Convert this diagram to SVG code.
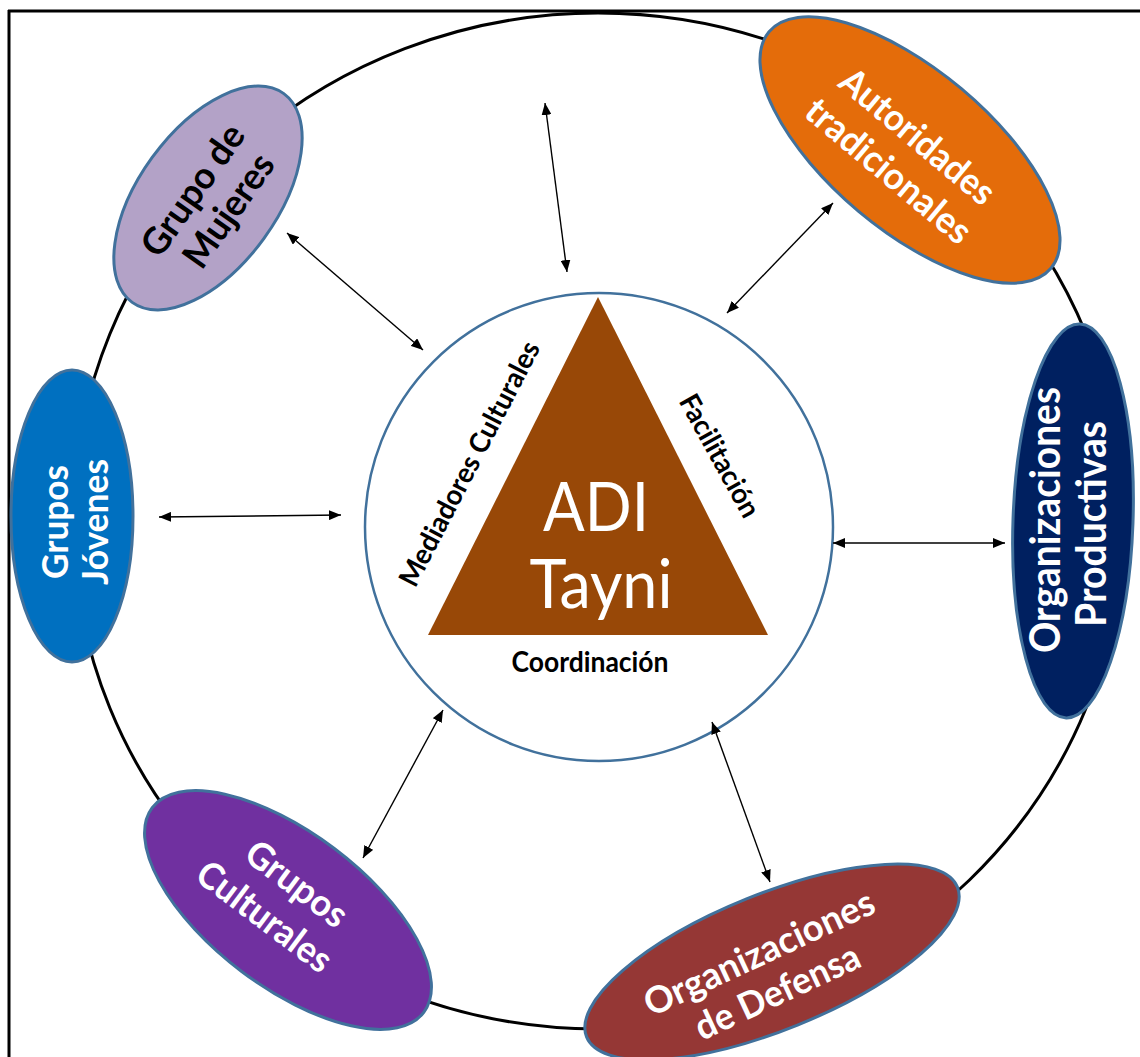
<svg xmlns="http://www.w3.org/2000/svg" width="1140" height="1057" viewBox="0 0 1140 1057">
<style>
.lbl{font-family:Lato,"Liberation Sans",sans-serif;font-weight:bold;font-size:37px;text-anchor:middle}
.w{fill:#ffffff}
.k{fill:#000000}
.node{stroke:#41719C;stroke-width:3}
.inner{font-family:Lato,"Liberation Sans",sans-serif;font-weight:bold;font-size:28px;text-anchor:middle;fill:#000}
.big{font-family:Lato,"Liberation Sans",sans-serif;font-size:68px;text-anchor:middle;fill:#fff}
.conn line{stroke:#000;stroke-width:1.4;marker-start:url(#ah);marker-end:url(#ah)}
</style>
<defs>
<marker id="ah" viewBox="0 0 12 10" refX="12" refY="5" markerWidth="12" markerHeight="10" markerUnits="userSpaceOnUse" orient="auto-start-reverse">
<path d="M0,0 L12,5 L0,10 z" fill="#000"/>
</marker>
</defs>
<rect width="1140" height="1057" fill="#fff"/>
<g id="frame" stroke="#000" stroke-width="3" fill="none">
<line x1="8" y1="11" x2="1140" y2="11"/>
<line x1="9" y1="10" x2="9" y2="1057"/>
</g>
<ellipse id="outer-ring" cx="598" cy="521" rx="525" ry="508" fill="none" stroke="#000" stroke-width="3"/>
<g id="center">
<circle cx="599" cy="527" r="234" fill="#fff" stroke="#41719C" stroke-width="2.5"/>
<polygon points="598,297 428,635 768,635" fill="#984807"/>
<text class="big" x="596" y="531" textLength="106" lengthAdjust="spacingAndGlyphs">ADI</text>
<text class="big" x="601" y="608" textLength="143" lengthAdjust="spacingAndGlyphs">Tayni</text>
<text class="inner" transform="translate(470,464) rotate(-62.5)" y="9" textLength="272" lengthAdjust="spacingAndGlyphs">Mediadores Culturales</text>
<text class="inner" transform="translate(719,456) rotate(61)" y="9" textLength="136" lengthAdjust="spacingAndGlyphs">Facilitación</text>
<text class="inner" x="590" y="672" textLength="157" lengthAdjust="spacingAndGlyphs">Coordinación</text>
</g>
<g id="connectors" class="conn">
<line x1="287" y1="233" x2="423" y2="350"/>
<line x1="545" y1="103" x2="567" y2="272"/>
<line x1="833" y1="203" x2="727" y2="313"/>
<line x1="159" y1="517" x2="341" y2="515"/>
<line x1="833" y1="543" x2="1005" y2="543"/>
<line x1="363" y1="858" x2="443" y2="710"/>
<line x1="712" y1="722" x2="770" y2="882"/>
</g>
<g id="grupo-mujeres">
<ellipse class="node" transform="translate(208,198) rotate(-54)" rx="129" ry="69" fill="#B3A2C7"/>
<g transform="translate(211,203) rotate(-55)">
<text class="lbl k" y="-9.5" textLength="152" lengthAdjust="spacingAndGlyphs">Grupo de</text>
<text class="lbl k" x="4" y="31.5" textLength="130" lengthAdjust="spacingAndGlyphs">Mujeres</text>
</g>
</g>
<g id="autoridades">
<ellipse class="node" transform="translate(910,150) rotate(40)" rx="184" ry="80" fill="#E46C0A"/>
<g transform="translate(902,155) rotate(40)">
<text class="lbl w" y="-11.5" textLength="190" lengthAdjust="spacingAndGlyphs">Autoridades</text>
<text class="lbl w" y="33.5" textLength="204" lengthAdjust="spacingAndGlyphs">tradicionales</text>
</g>
</g>
<g id="productivas">
<ellipse class="node" transform="translate(1073,521) rotate(2)" rx="60" ry="197" fill="#002060"/>
<g transform="translate(1070,520) rotate(-90)">
<text class="lbl w" style="font-size:42px" y="-10" textLength="266" lengthAdjust="spacingAndGlyphs">Organizaciones</text>
<text class="lbl w" style="font-size:42px" x="-4" y="36" textLength="206" lengthAdjust="spacingAndGlyphs">Productivas</text>
</g>
</g>
<g id="jovenes">
<ellipse class="node" cx="72" cy="516" rx="61" ry="146" fill="#0070C0"/>
<g transform="translate(77,522) rotate(-90)">
<text class="lbl w" y="-9" textLength="114" lengthAdjust="spacingAndGlyphs">Grupos</text>
<text class="lbl w" y="31" textLength="126" lengthAdjust="spacingAndGlyphs">Jóvenes</text>
</g>
</g>
<g id="culturales">
<ellipse class="node" transform="translate(288,910) rotate(37)" rx="170" ry="77" fill="#7030A0"/>
<g transform="translate(277,900) rotate(37)">
<text class="lbl w" x="6" y="-12" textLength="118" lengthAdjust="spacingAndGlyphs">Grupos</text>
<text class="lbl w" y="33.5" textLength="159" lengthAdjust="spacingAndGlyphs">Culturales</text>
</g>
</g>
<g id="defensa">
<ellipse class="node" transform="translate(772,962) rotate(-22)" rx="200" ry="68" fill="#953735"/>
<g transform="translate(769,974) rotate(-25)">
<text class="lbl w" y="-10.5" textLength="250" lengthAdjust="spacingAndGlyphs">Organizaciones</text>
<text class="lbl w" y="32.5" textLength="178" lengthAdjust="spacingAndGlyphs">de Defensa</text>
</g>
</g>
</svg>
